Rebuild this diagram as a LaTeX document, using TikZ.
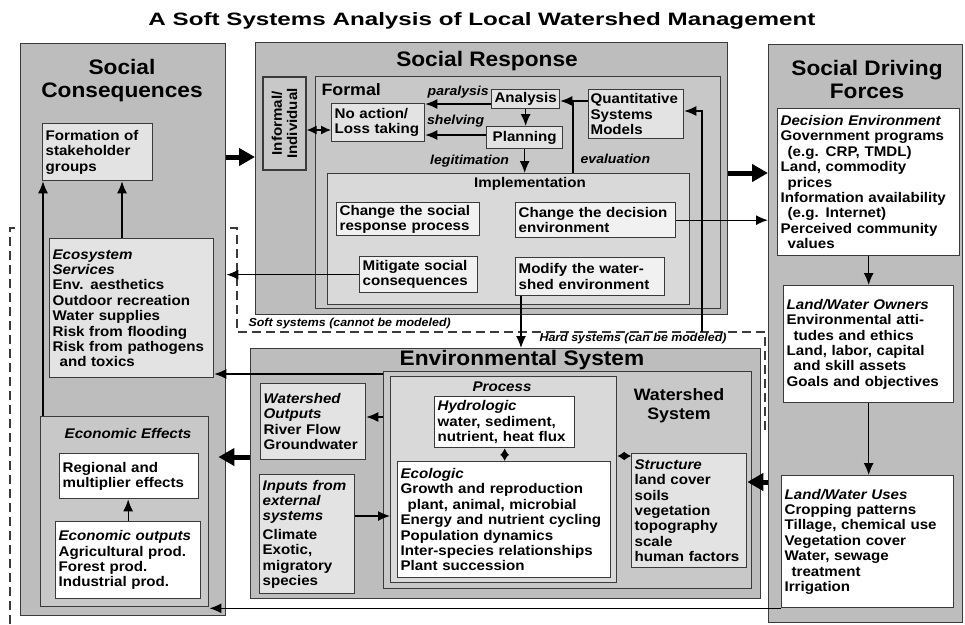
\documentclass[tikz,border=0pt]{standalone}
\usepackage{fontspec}
\setmainfont{Liberation Sans}[FakeStretch=1.08]
\usepackage{graphicx}
\usetikzlibrary{arrows.meta}
\definecolor{edge}{HTML}{3A3A3A}
\definecolor{outerfill}{HTML}{BDBDBD}
\definecolor{midfill}{HTML}{C8C8C8}
\definecolor{innerfill}{HTML}{D9D9D9}
\definecolor{cardfill}{HTML}{E3E3E3}
\definecolor{palefill}{HTML}{F1F1F1}
\newcommand{\bodyfont}{\fontsize{14}{15.4}\selectfont\bfseries}
\newcommand{\headfont}{\fontsize{21}{23}\selectfont\bfseries}
\newcommand{\subheadfont}{\fontsize{16.5}{19}\selectfont\bfseries}
\newcommand{\tagfont}{\fontsize{13}{15}\selectfont\bfseries\itshape}
\newcommand{\notefont}{\fontsize{11.5}{13}\selectfont\bfseries\itshape}
\tikzset{
  panel/.style={draw=edge, line width=1.4pt, anchor=north west, inner sep=0pt},
  card/.style={draw=edge, line width=1.3pt, anchor=north west, align=left, inner xsep=3pt, inner ysep=2pt},
  flow/.style={-{Latex[length=12pt,width=10pt]}, line width=1.3pt},
  both/.style={{Latex[length=10pt,width=9pt]}-{Latex[length=10pt,width=9pt]}, line width=1.3pt},
  shortboth/.style={{Latex[length=7pt,width=9pt]}-{Latex[length=7pt,width=9pt]}, line width=1.3pt},
  bigflow/.style={-{Triangle[length=16pt,width=17pt]}, line width=5pt},
  tag/.style={font=\tagfont, inner sep=1pt},
  boundary/.style={draw=edge, line width=1.3pt, dash pattern=on 9pt off 5pt},
}
\begin{document}
\begin{tikzpicture}[x=1pt, y=-1pt, every node/.style={font=\bodyfont}]
\useasboundingbox (0,0) rectangle (965,624);

\node (title) at (482,21) {\resizebox{667pt}{13pt}{A Soft Systems Analysis of Local Watershed Management}};

\draw[boundary] (10,624) -- (10,228) -- (237,228) -- (237,332) -- (765,332) -- (765,432);
\node[anchor=west, font=\notefont] (soft) at (245,324) {Soft systems (cannot be modeled)};
\node[anchor=west, font=\notefont] (hard) at (536,339) {Hard systems (can be modeled)};

% social consequences
\node[panel, fill=outerfill, minimum width=205pt, minimum height=572pt] (cons) at (20,43) {};
\node[font=\headfont, align=center] (constitle) at (122,81) {Social\\Consequences};
\node[card, fill=cardfill, text width=104pt, minimum height=57pt] (stake) at (42,123) {Formation of\\stakeholder\\groups};
\node[card, fill=cardfill, text width=158pt, minimum height=139pt] (services) at (49,238) {\textit{Ecosystem}\\\textit{Services}\\Env. aesthetics\\Outdoor recreation\\Water supplies\\Risk from flooding\\Risk from pathogens\\\hspace*{7pt}and toxics};
\node[panel, fill=midfill, minimum width=168pt, minimum height=190pt] (econ) at (40,416) {};
\node (econtitle) at (128,433) {\textit{Economic Effects}};
\node[card, fill=white, text width=133pt, minimum height=45pt] (regional) at (59,453) {Regional and\\multiplier effects};
\node[card, fill=white, text width=139pt, minimum height=77pt] (outputs) at (55,521) {\textit{Economic outputs}\\Agricultural prod.\\Forest prod.\\Industrial prod.};

% social response
\node[panel, fill=outerfill, minimum width=472pt, minimum height=272pt] (resp) at (255,42) {};
\node[font=\headfont] (resptitle) at (487,61) {Social Response};
\node[panel, fill=midfill, minimum width=405pt, minimum height=232pt] (formal) at (315,76) {};
\node[anchor=west, font=\subheadfont] (formaltitle) at (318,90) {Formal};
\node[card, anchor=center, rotate=90, fill=midfill, align=center, inner sep=0pt, minimum width=93pt, minimum height=43pt] (informal) at (284.5,123.5) {Informal/\\Individual};
\node[card, fill=cardfill, text width=87pt, minimum height=38pt] (noaction) at (331,103) {No action/\\Loss taking};
\node[card, fill=cardfill, align=center, minimum width=68pt, minimum height=19pt, inner sep=0pt] (analysis) at (491,89) {Analysis};
\node[card, fill=cardfill, align=center, minimum width=76pt, minimum height=22pt, inner sep=0pt] (planning) at (486,126) {Planning};
\node[card, fill=cardfill, inner xsep=2pt, text width=91pt, minimum height=49pt] (quant) at (588,89) {Quantitative\\Systems\\Models};
\node[panel, fill=innerfill, minimum width=362pt, minimum height=131pt] (impl) at (327,173) {};
\node (impltitle) at (530,184) {Implementation};
\node[card, fill=palefill, text width=137pt, minimum height=33pt] (chsoc) at (336,202) {Change the social\\response process};
\node[card, fill=palefill, text width=154pt, minimum height=35pt] (chdec) at (515,202) {Change the decision\\environment};
\node[card, fill=palefill, text width=112pt, minimum height=36pt] (mitig) at (359,256) {Mitigate social\\consequences};
\node[card, fill=palefill, text width=143pt, minimum height=38pt] (modify) at (515,257) {Modify the water-\\shed environment};

% environmental system
\node[panel, fill=outerfill, minimum width=510pt, minimum height=250pt] (envsys) at (250,348) {};
\node[font=\headfont] (envtitle) at (522,360) {Environmental System};
\node[panel, fill=midfill, minimum width=368pt, minimum height=217pt] (watershed) at (383,371) {};
\node[font=\subheadfont, align=center] (wstitle) at (679,406) {Watershed\\System};
\node[panel, fill=innerfill, minimum width=226pt, minimum height=206pt] (process) at (390,376) {};
\node (proctitle) at (502,387) {\textit{Process}};
\node[card, fill=white, text width=134pt, minimum height=51pt] (hydro) at (434,396) {\textit{Hydrologic}\\water, sediment,\\nutrient, heat flux};
\node[card, fill=white, text width=207pt, minimum height=116pt] (ecol) at (397,461) {\textit{Ecologic}\\Growth and reproduction\\\hspace*{7pt}plant, animal, microbial\\Energy and nutrient cycling\\Population dynamics\\Inter-species relationships\\Plant succession};
\node[card, fill=cardfill, text width=109pt, minimum height=114pt] (structure) at (631,453) {\textit{Structure}\\land cover\\soils\\vegetation\\topography\\scale\\human factors};
\node[card, fill=cardfill, text width=99pt, minimum height=76pt] (wsout) at (260,383) {\textit{Watershed}\\\textit{Outputs}\\River Flow\\Groundwater};
\node[card, fill=cardfill, text width=89pt, minimum height=119pt] (inputs) at (259,474) {\textit{Inputs from}\\\textit{external}\\\textit{systems}\\[3pt]Climate\\Exotic,\\migratory\\species};

% social driving forces
\node[panel, fill=outerfill, minimum width=194pt, minimum height=578pt] (driving) at (768,44) {};
\node[font=\headfont, align=center] (drivetitle) at (867,79) {Social Driving\\Forces};
\node[card, fill=white, text width=176pt, minimum height=147pt] (decision) at (777,108) {\textit{Decision Environment}\\Government programs\\\hspace*{7pt}(e.g. CRP, TMDL)\\Land, commodity\\\hspace*{7pt}prices\\Information availability\\\hspace*{7pt}(e.g. Internet)\\Perceived community\\\hspace*{7pt}values};
\node[card, fill=white, text width=164pt, minimum height=117pt] (owners) at (783,285) {\textit{Land/Water Owners}\\Environmental atti-\\\hspace*{7pt}tudes and ethics\\Land, labor, capital\\\hspace*{7pt}and skill assets\\Goals and objectives};
\node[card, fill=white, text width=166pt, minimum height=132pt] (uses) at (781,475) {\textit{Land/Water Uses}\\Cropping patterns\\Tillage, chemical use\\Vegetation cover\\Water, sewage\\\hspace*{7pt}treatment\\Irrigation};

% links between the four systems
\draw[bigflow] (cons.east |- 0,157) -- (resp.west |- 0,157);
\draw[bigflow] (resp.east |- 0,173) -- (driving.west |- 0,173);
\draw[bigflow] (envsys.west |- 0,457) -- ([xshift=9pt]econ.east |- 0,457);
\draw[bigflow] (driving.west |- 0,482) -- (structure.east |- 0,482);
\draw[flow] (chdec.east) -- (driving.west |- chdec.east);
\draw[flow] (mitig.west) -- (cons.east |- mitig.west);
\draw[flow] (watershed.west |- 0,374) -- (services.east |- 0,374);
\draw[flow] (uses.south west) -- (econ.east |- uses.south west);
\draw[flow] (modify.south -| 521,0) -- (envsys.north -| 521,0);
\coordinate (modelfeed) at (702,332);
\draw[flow] (modelfeed) |- (quant.east |- 0,111);

% inside the social side
\draw[flow] (services.north -| 122,0) -- (stake.south -| 122,0);
\draw[flow] (econ.north -| 43,0) -- (stake.south -| 43,0);
\draw[flow] (outputs.north) -- (outputs.north |- regional.south);
\draw[flow] (decision.south) -- (decision.south |- owners.north);
\draw[flow] (owners.south) -- (owners.south |- uses.north);

% formal response loop
\draw[flow] (analysis.west |- 0,104) -- node[tag, above=4.5pt] (paralysis) {paralysis} (noaction.east |- 0,104);
\draw[flow] (planning.west |- 0,135) -- node[tag, above=6.5pt] (shelving) {shelving} (noaction.east |- 0,135);
\draw[flow] (analysis.south) -- (analysis.south |- planning.north);
\draw[flow] (planning.south) -- node[tag, left=14pt] (legit) {legitimation} (planning.south |- impl.north);
\draw[flow] (quant.west |- 0,101) -- (analysis.east |- 0,101);
\coordinate (evaljoin) at (573,101);
\draw[line width=1.3pt] (impl.north -| evaljoin) -- node[tag, right=6pt, pos=0.2] (evaluation) {evaluation} (evaljoin);
\draw[both] (informal.south |- 0,130) -- (noaction.west |- 0,130);

% watershed internals
\draw[shortboth] (hydro.south) -- (hydro.south |- ecol.north);
\draw[shortboth] (process.east |- 0,456) -- (structure.west |- 0,456);
\draw[flow] (watershed.west |- 0,417) -- (wsout.east |- 0,417);
\draw[flow] (inputs.east |- 0,516) -- (process.west |- 0,516);
\end{tikzpicture}
\end{document}
